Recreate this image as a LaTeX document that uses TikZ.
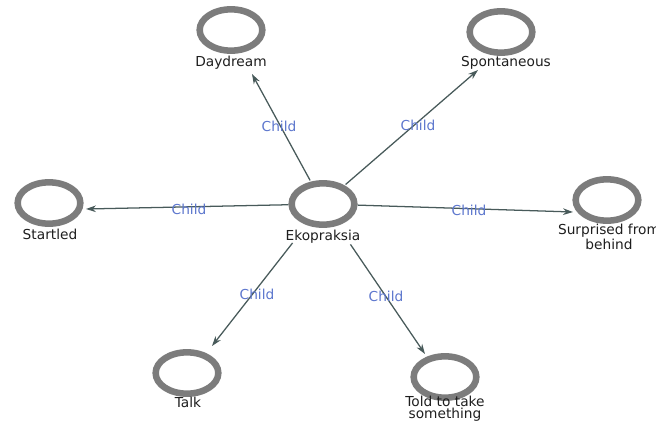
\documentclass[tikz,border=0pt]{standalone}
\usepackage{fontspec}
\setmainfont{DejaVu Sans}
\usetikzlibrary{shapes.geometric,arrows.meta,calc}
\definecolor{ringgray}{RGB}{124,124,124}
\definecolor{edgecol}{RGB}{72,90,90}
\definecolor{childblue}{RGB}{92,118,205}
\definecolor{txtcol}{RGB}{30,30,30}
\tikzset{
  ring/.style={ellipse, draw=ringgray, line width=4.9pt, minimum width=47pt, minimum height=31pt, inner sep=0pt},
  nmtext/.style={font=\fontsize{10.3pt}{9.3pt}\selectfont, text=txtcol, align=center, inner sep=0pt},
  reltext/.style={font=\fontsize{10.3pt}{11pt}\selectfont, text=childblue, inner sep=0pt},
  conn/.style={draw=edgecol, line width=0.95pt, -{Stealth[length=7.5pt,width=5pt]}}
}
\begin{document}
\begin{tikzpicture}[x=0.75pt,y=-0.75pt]
\useasboundingbox (0,0) rectangle (656,421);
% rings
\node[ring] (eko) at (323,204) {};
\node[ring] (day) at (231,30) {};
\node[ring] (spo) at (501,32) {};
\node[ring] (sta) at (49,203) {};
\node[ring] (sur) at (607,200) {};
\node[ring] (tal) at (187,373) {};
\node[ring] (tol) at (445,377) {};
% names
\node[nmtext] (ekot) at (323,237) {Ekopraksia};
\node[nmtext] (dayt) at (231,63) {Daydream};
\node[nmtext] (spot) at (506,63) {Spontaneous};
\node[nmtext] (stat) at (50,234) {Startled};
\node[nmtext] (surt) at (609,237) {Surprised from\\behind};
\node[nmtext] (talt) at (188,402) {Talk};
\node[nmtext] (tolt) at (445,409) {Told to take\\something};
% connector ends (arrow tips)
\coordinate (dayin) at (252,74);
\coordinate (spoin) at (478,70);
\coordinate (stain) at (86,209);
\coordinate (surin) at (573,212);
\coordinate (talin) at (212,346);
\coordinate (tolin) at (425,354);
% connectors
\draw[conn, shorten <=1pt] (eko) -- (dayin);
\draw[conn, shorten <=1pt] (eko) -- (spoin);
\draw[conn] (eko) -- (stain);
\draw[conn] (eko) -- (surin);
\draw[conn, shorten <=17pt] (eko) -- (talin);
\draw[conn, shorten <=17pt] (eko) -- (tolin);
% labels
\node[reltext] (l1) at (279,126) {Child};
\node[reltext] (l2) at (418,125) {Child};
\node[reltext] (l3) at (189,209) {Child};
\node[reltext] (l4) at (469,210) {Child};
\node[reltext] (l5) at (257,294) {Child};
\node[reltext] (l6) at (386,296) {Child};
\end{tikzpicture}
\end{document}
